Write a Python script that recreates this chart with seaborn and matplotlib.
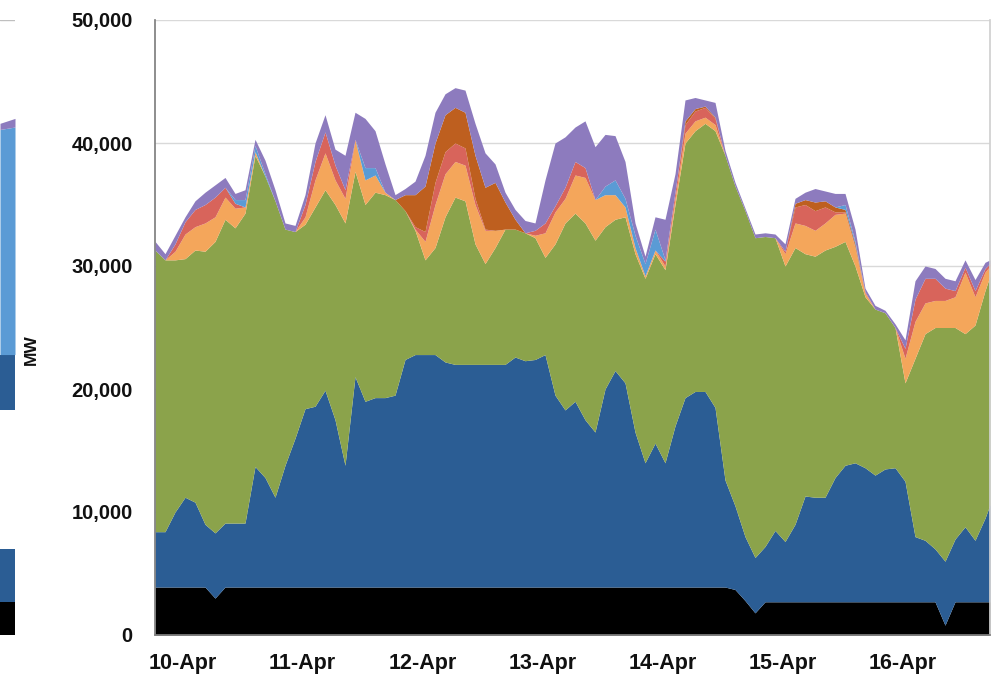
import matplotlib
matplotlib.use("Agg")
import matplotlib.pyplot as plt
import matplotlib.transforms as mtransforms
import seaborn as sns
from matplotlib.ticker import FuncFormatter

# ---------------- data (MW, every 2 hours from 10-Apr 00:00) ----------------
hours = list(range(0, 168, 2)) + [167]
day_labels = ["10-Apr", "11-Apr", "12-Apr", "13-Apr", "14-Apr", "15-Apr", "16-Apr"]
day_ticks = [0, 24, 48, 72, 96, 120, 144]

black_mw = [3900, 3900, 3900, 3900, 3900, 3900, 3000, 3900, 3900, 3900, 3900, 3900,
            3900, 3900, 3900, 3900, 3900, 3900, 3900, 3900, 3900, 3900, 3900, 3900,
            3900, 3900, 3900, 3900, 3900, 3900, 3900, 3900, 3900, 3900, 3900, 3900,
            3900, 3900, 3900, 3900, 3900, 3900, 3900, 3900, 3900, 3900, 3900, 3900,
            3900, 3900, 3900, 3900, 3900, 3900, 3900, 3900, 3900, 3900, 3700, 2800,
            1800, 2700, 2700, 2700, 2700, 2700, 2700, 2700, 2700, 2700, 2700, 2700,
            2700, 2700, 2700, 2700, 2700, 2700, 2700, 800, 2700, 2700, 2700, 2700,
            2700]
darkblue_mw = [4500, 4500, 6100, 7300, 6900, 5100, 5300, 5200, 5200, 5200, 9800, 8900,
               7300, 9900, 12100, 14500, 14700, 16000, 13600, 9900, 17100, 15100, 15400, 15400,
               15600, 18500, 18900, 18900, 18900, 18300, 18100, 18100, 18100, 18100, 18100, 18100,
               18700, 18400, 18500, 18900, 15600, 14400, 15100, 13600, 12600, 16100, 17600, 16600,
               12600, 10100, 11700, 10100, 13100, 15400, 15900, 15900, 14600, 8700, 6800, 5200,
               4500, 4500, 5800, 4900, 6300, 8600, 8500, 8500, 10100, 11100, 11300, 10900,
               10300, 10800, 10900, 9800, 5300, 5000, 4300, 5200, 5100, 6100, 5000, 6800,
               7900]
green_mw = [22900, 22100, 20500, 19400, 20500, 22200, 23700, 24700, 24000, 25200, 25300, 24500,
            24100, 19200, 16800, 15000, 16200, 16300, 17500, 19700, 16700, 16000, 16700, 16500,
            15900, 12100, 10100, 7700, 8700, 11800, 13600, 13300, 9800, 8200, 9500, 11000,
            10400, 10400, 9900, 7900, 12300, 15200, 15300, 16000, 15600, 13200, 12300, 13500,
            14500, 15000, 15400, 15700, 18000, 20700, 21200, 21800, 22500, 26400, 26000, 26500,
            26000, 25200, 23800, 22400, 22500, 19700, 19600, 20100, 18800, 18200, 16000, 13900,
            13500, 12700, 11400, 8000, 14500, 16800, 18000, 19000, 17200, 15700, 17500, 18500,
            18600]
orange_mw = [0, 0, 700, 2000, 1900, 2300, 2000, 1800, 1600, 500, 300, 0,
             0, 0, 0, 600, 2200, 3000, 2000, 2000, 2500, 2000, 1400, 200,
             0, 0, 100, 1500, 3500, 3500, 2900, 2900, 3200, 2700, 1400, 0,
             0, 0, 200, 2000, 2600, 2000, 3100, 3700, 3300, 2600, 2000, 800,
             500, 200, 300, 300, 500, 800, 800, 500, 500, 0, 0, 0,
             0, 0, 0, 1000, 2000, 2300, 2100, 2200, 2600, 2300, 1500, 300,
             0, 0, 0, 2000, 3000, 2500, 2200, 2200, 2500, 5000, 2300, 1500,
             800]
red_mw = [0, 0, 600, 1000, 1400, 1500, 1600, 800, 400, 0, 0, 0,
          0, 0, 0, 1000, 1500, 1700, 1200, 700, 100, 0, 0, 0,
          0, 0, 200, 800, 1800, 1800, 1500, 1400, 500, 100, 0, 0,
          0, 0, 400, 800, 500, 900, 1100, 800, 0, 0, 0, 0,
          0, 0, 0, 400, 500, 700, 800, 800, 500, 0, 0, 0,
          0, 0, 0, 200, 1300, 1700, 1600, 1300, 200, 100, 100, 100,
          0, 0, 0, 800, 1800, 2000, 1800, 1000, 500, 400, 500, 300,
          200]
brown_mw = [0, 0, 0, 0, 0, 0, 0, 0, 0, 0, 0, 0,
            0, 0, 0, 0, 0, 0, 0, 0, 0, 0, 0, 0,
            0, 1300, 2600, 3700, 3200, 3000, 2900, 2900, 3500, 3400, 3900, 2200,
            800, 0, 0, 0, 0, 0, 0, 0, 0, 0, 0, 0,
            0, 0, 0, 0, 0, 300, 200, 100, 100, 0, 0, 0,
            0, 0, 0, 0, 300, 400, 700, 500, 400, 200, 200, 0,
            0, 0, 0, 0, 0, 0, 0, 0, 0, 0, 0, 0,
            0]
lightblue_mw = [0, 0, 0, 0, 0, 0, 0, 0, 300, 600, 500, 200,
                0, 0, 0, 0, 0, 0, 0, 0, 0, 1000, 600, 0,
                0, 0, 0, 0, 0, 0, 0, 0, 0, 0, 0, 0,
                0, 0, 0, 0, 0, 0, 0, 0, 0, 700, 1200, 700,
                1000, 1000, 1700, 100, 0, 0, 0, 0, 0, 0, 0, 0,
                0, 0, 0, 0, 0, 0, 0, 0, 0, 400, 200, 0,
                0, 0, 0, 0, 0, 0, 0, 0, 0, 0, 0, 0,
                0]
purple_mw = [700, 500, 700, 400, 700, 1000, 1000, 800, 500, 800, 500, 1100,
             900, 500, 500, 800, 1500, 1400, 1300, 2800, 2200, 4000, 3000, 2300,
             400, 500, 1100, 2500, 2500, 1700, 1600, 1800, 2600, 2800, 1500, 800,
             800, 1000, 600, 3500, 5100, 4100, 2800, 3800, 4300, 4200, 3600, 3000,
             1000, 600, 1000, 3300, 1500, 1700, 900, 500, 1200, 400, 300, 200,
             300, 300, 300, 600, 400, 600, 1100, 800, 1100, 900, 1000, 300,
             300, 200, 300, 700, 1500, 1000, 800, 800, 800, 600, 900, 500,
             300]

# partially visible neighbouring chart on the far left (two edge points)
left_x = [0, 1]
left_black = [2700, 2700]
left_blue_low = [4300, 4300]
left_gap = [11300, 11300]
left_blue_high = [4500, 4500]
left_lightblue = [18300, 18500]
left_purple = [500, 700]

colors = ["#000000", "#2B5D94", "#8BA34B", "#F4A65B", "#D8645B",
          "#BE5F1F", "#5A9BD5", "#8D7BBE"]

# ---------------- figure ----------------
sns.set_theme(style="white")
plt.rcParams["font.family"] = ["Liberation Sans", "DejaVu Sans"]

W, H = 994, 685
fig = plt.figure(figsize=(W / 100, H / 100), dpi=100)
fig.patch.set_facecolor("white")

x0, x1 = 155, 990
ytop, ybot = 20, 635
ax = fig.add_axes([x0 / W, 1 - ybot / H, (x1 - x0) / W, (ybot - ytop) / H])

for g in range(10000, 50001, 10000):
    ax.axhline(g, color="#D9D9D9", lw=1.0, zorder=0)

ax.stackplot(hours, black_mw, darkblue_mw, green_mw, orange_mw, red_mw,
             brown_mw, lightblue_mw, purple_mw, colors=colors, lw=0, zorder=2)

ax.set_xlim(0, 167)
ax.set_ylim(0, 50000)
ax.set_yticks(range(0, 50001, 10000))
ax.yaxis.set_major_formatter(FuncFormatter(lambda v, p: f"{int(v):,}"))
ax.set_xticks(day_ticks)
ax.set_xticklabels(day_labels)
ax.tick_params(axis="x", direction="out", length=6, width=1, color="#808080",
               labelsize=15.5, pad=7)
ax.tick_params(axis="y", direction="out", length=5, width=1, color="#808080",
               labelsize=14.5, pad=11)
for lab in ax.get_xticklabels():
    lab.set_horizontalalignment("left")
for lab in ax.get_xticklabels() + ax.get_yticklabels():
    lab.set_fontweight("bold")
    lab.set_color("#111111")
offset = mtransforms.ScaledTranslation(-6 / 100, 0, fig.dpi_scale_trans)
for lab in ax.get_xticklabels():
    lab.set_transform(lab.get_transform() + offset)

ax.spines["top"].set_visible(False)
ax.spines["right"].set_color("#D0D0D0")
ax.spines["left"].set_color("#808080")
ax.spines["bottom"].set_color("#808080")
ax.set_facecolor("white")

# left strip: right edge of the neighbouring chart
axl = fig.add_axes([0, 1 - ybot / H, 15 / W, (ybot - ytop) / H])
axl.axhline(50000, color="#BFBFBF", lw=1.0, zorder=0)
axl.stackplot(left_x, left_black, left_blue_low, left_gap, left_blue_high,
              left_lightblue, left_purple,
              colors=["#000000", "#2B5D94", "#FFFFFF", "#2B5D94", "#5B9BD5", "#8D7BBE"],
              lw=0, zorder=2)
axl.set_xlim(0, 1)
axl.set_ylim(0, 50000)
axl.axis("off")

fig.text(31 / W, 1 - 350 / H, "MW", rotation=90, ha="center", va="center",
         fontsize=12.5, fontweight="bold", color="#111111")

fig.savefig("out.png", dpi=100, facecolor="white")
